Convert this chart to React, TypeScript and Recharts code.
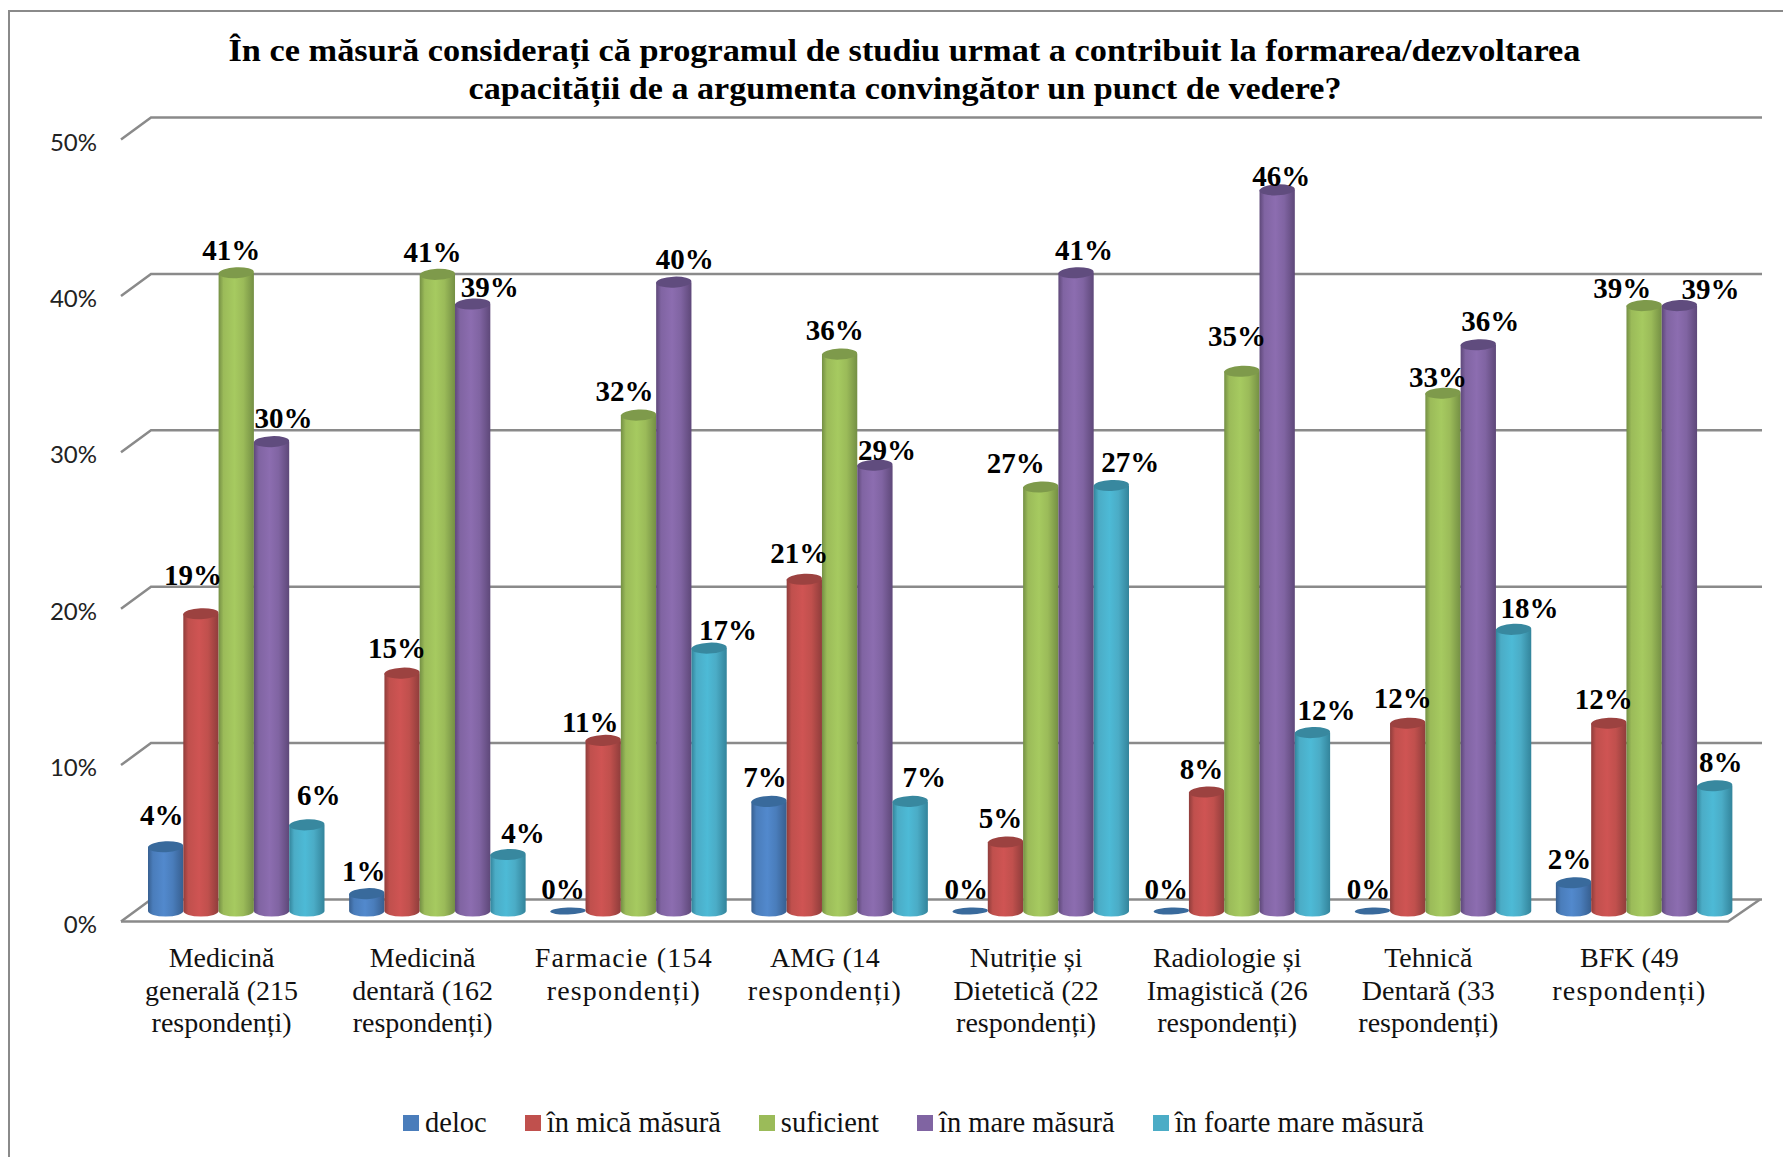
import { BarChart, Bar, XAxis, YAxis, CartesianGrid, Legend, LabelList } from 'recharts'

const CATEGORIES = [
  'Medicină|generală (215|respondenți)',
  'Medicină|dentară (162|respondenți)',
  'Farmacie (154|respondenți)',
  'AMG (14|respondenți)',
  'Nutriție și|Dietetică (22|respondenți)',
  'Radiologie și|Imagistică (26|respondenți)',
  'Tehnică|Dentară (33|respondenți)',
  'BFK (49|respondenți)',
]

const DELOC = [4.3, 1.3, 0, 7.2, 0, 0, 0, 2]
const MICA = [19.2, 15.4, 11.1, 21.4, 4.6, 7.8, 12.2, 12.2]
const SUFICIENT = [41, 40.9, 31.9, 35.8, 27.3, 34.7, 33.3, 38.9]
const MARE = [30.2, 39, 40.4, 28.7, 41, 46.3, 36.4, 38.9]
const FOARTE_MARE = [5.7, 3.8, 17, 7.2, 27.4, 11.6, 18.2, 8.2]

const Y_TICKS = [0, 10, 20, 30, 40, 50]

const SERIES = [
  { key: 'deloc', name: 'deloc', values: DELOC, color: '#4A7DBB', light: '#5289CD', dark: '#375F90', top: '#396A9C' },
  { key: 'mica', name: 'în mică măsură', values: MICA, color: '#C0504D', light: '#CF5453', dark: '#8F3D3B', top: '#9C4240' },
  { key: 'suficient', name: 'suficient', values: SUFICIENT, color: '#9BBB59', light: '#A6CA60', dark: '#748F44', top: '#7E9A4B' },
  { key: 'mare', name: 'în mare măsură', values: MARE, color: '#8064A2', light: '#8C6DB0', dark: '#5E4879', top: '#604C7E' },
  { key: 'foarte', name: 'în foarte mare măsură', values: FOARTE_MARE, color: '#4BACC6', light: '#4DBAD6', dark: '#33849B', top: '#38889F' },
]

// hand placed data labels, offset from bar centre / bar top
const LABEL_DX = [
  [-4, -3, -5, -4, -4, -5, -4, -4],
  [-8, -5, -13, -5, -5, -5, -5, -5],
  [-5, -5, -14, -5, -25, -5, -5, -22],
  [12, 17, 11, 12, 8, 4, 12, 31],
  [12, 15, 19, 14, 19, 14, 16, 6],
]
const LABEL_DY = [
  [-32, -23, -25, -24, -25, -25, -25, -24],
  [-39, -25, -18, -26, -24, -23, -25, -24],
  [-23, -22, -24, -24, -24, -35, -16, -18],
  [-24, -17, -23, -15, -23, -14, -24, -17],
  [-30, -22, -18, -24, -23, -23, -21, -24],
]

const data = CATEGORIES.map((category, i) => {
  const row: Record<string, string | number> = { category }
  SERIES.forEach((s) => { row[s.key] = s.values[i] })
  return row
})

const WIDTH = 1783
const HEIGHT = 1157
const PLOT_BOTTOM = 914
const GRID = '#8A8A8A'
const SERIF = '"Liberation Serif", serif'

function gridLine(p: any) {
  const y = p.y1
  const floor = Math.abs(y - PLOT_BOTTOM) < 1
  return (
    <g key={p.key ?? y} fill="none" stroke={GRID} strokeWidth={2.5}>
      <polyline points={`${p.x1 - 15},${y + 7.5} ${p.x1 + 15},${y - 14.5} ${p.x2 + 17},${y - 14.5}`} />
      {floor && (
        <polyline points={`${p.x1 - 15},${y + 7.5} ${p.x2 - 17},${y + 7.5} ${p.x2 + 15},${y - 14.5}`} />
      )}
    </g>
  )
}

function yTick({ y, payload }: any) {
  return (
    <text x={97} y={y + 9} textAnchor="end" dominantBaseline="central" fontFamily="Lato" fontSize={24} fill="#222">
      {payload.value}%
    </text>
  )
}

function xTick({ x, payload }: any) {
  const lines = String(payload.value).split('|')
  return (
    <g>
      {lines.map((line, i) => {
        // the two line labels are set wider in the original
        const wide = lines.length === 2 && (i === 1 || line.startsWith('Farmacie'))
        return (
          <text key={i} x={x - 15} y={957.5 + i * 32.5} textAnchor="middle" dominantBaseline="central"
            fontFamily={SERIF} fontSize={28} letterSpacing={wide ? 1.2 : 0} fill="#111">
            {line}
          </text>
        )
      })}
    </g>
  )
}

function cylinder(si: number) {
  const s = SERIES[si]
  return (p: any) => {
    const rx = p.width / 2
    const ry = 5.5
    const yb = PLOT_BOTTOM - 3
    if (p.height < 1) {
      return <ellipse cx={p.x + rx} cy={yb} rx={rx} ry={3.5} fill={s.top} transform={`rotate(-2 ${p.x + rx} ${yb})`} />
    }
    return (
      <g>
        <path
          d={`M${p.x},${p.y} L${p.x},${yb} A${rx},${ry} 0 0 0 ${p.x + p.width},${yb} L${p.x + p.width},${p.y} Z`}
          fill={`url(#cyl-${si})`}
        />
        <ellipse cx={p.x + rx} cy={p.y} rx={rx} ry={ry} fill={s.top} transform={`rotate(-2.5 ${p.x + rx} ${p.y})`} />
      </g>
    )
  }
}

function barLabel(si: number) {
  return (p: any) => {
    const cx = p.x + p.width / 2 + LABEL_DX[si][p.index]
    return (
      <text x={cx} y={p.y + LABEL_DY[si][p.index]} textAnchor="middle" dominantBaseline="central"
        fontFamily={SERIF} fontWeight="bold" fontSize={29} fill="#000">
        {Math.round(p.value)}%
      </text>
    )
  }
}

function legendContent({ payload }: any) {
  return (
    <div style={{ display: 'flex', alignItems: 'center', fontFamily: SERIF, fontSize: 28.5, color: '#111', whiteSpace: 'nowrap' }}>
      {(payload ?? []).map((entry: any) => (
        <span key={entry.value} style={{ display: 'flex', alignItems: 'center', marginRight: 38 }}>
          <span style={{ width: 16, height: 16, background: entry.color, marginRight: 6, display: 'inline-block' }} />
          {entry.value}
        </span>
      ))}
    </div>
  )
}

export default function App() {
  return (
    <div style={{ position: 'absolute', left: 0, top: 0, width: WIDTH, height: HEIGHT, overflow: 'hidden', background: '#fff' }}>
      <div style={{ position: 'absolute', left: 8, top: 10, width: WIDTH, height: HEIGHT, border: '2.5px solid #8A8A8A', boxSizing: 'border-box' }} />
      <svg width={WIDTH} height={120} style={{ position: 'absolute', left: 0, top: 0 }}>
        <text x={904.5} y={61} textAnchor="middle" fontFamily={SERIF} fontWeight="bold" fontSize={32} textLength={1352} lengthAdjust="spacingAndGlyphs" fill="#000">
          În ce măsură considerați că programul de studiu urmat a contribuit la formarea/dezvoltarea
        </text>
        <text x={905} y={99} textAnchor="middle" fontFamily={SERIF} fontWeight="bold" fontSize={32} textLength={873} lengthAdjust="spacingAndGlyphs" fill="#000">
          capacității de a argumenta convingător un punct de vedere?
        </text>
      </svg>
      <BarChart
        width={WIDTH}
        height={HEIGHT}
        data={data}
        margin={{ top: 132, right: 38, bottom: 143, left: 76 }}
        barGap={0}
        barSize={35.3}
        style={{ position: 'absolute', left: 0, top: 0 }}
      >
        <defs>
          {SERIES.map((s, i) => (
            <linearGradient key={s.key} id={`cyl-${i}`} x1="0" y1="0" x2="1" y2="0">
              <stop offset="0%" stopColor={s.dark} />
              <stop offset="14%" stopColor={s.color} />
              <stop offset="45%" stopColor={s.light} />
              <stop offset="70%" stopColor={s.color} />
              <stop offset="100%" stopColor={s.dark} />
            </linearGradient>
          ))}
        </defs>
        <CartesianGrid vertical={false} horizontal={gridLine} syncWithTicks />
        <XAxis dataKey="category" interval={0} axisLine={false} tickLine={false} height={100} tick={xTick} />
        <YAxis width={60} domain={[0, 50]} ticks={Y_TICKS} axisLine={false} tickLine={false} tick={yTick} />
        {SERIES.map((s, i) => (
          <Bar key={s.key} dataKey={s.key} name={s.name} fill={s.color} shape={cylinder(i)} isAnimationActive={false}>
            <LabelList dataKey={s.key} content={barLabel(i)} />
          </Bar>
        ))}
        <Legend
          verticalAlign="middle"
          itemSorter={null}
          content={legendContent}
          wrapperStyle={{ left: 403, top: 1107, width: 'auto' }}
        />
      </BarChart>
    </div>
  )
}
